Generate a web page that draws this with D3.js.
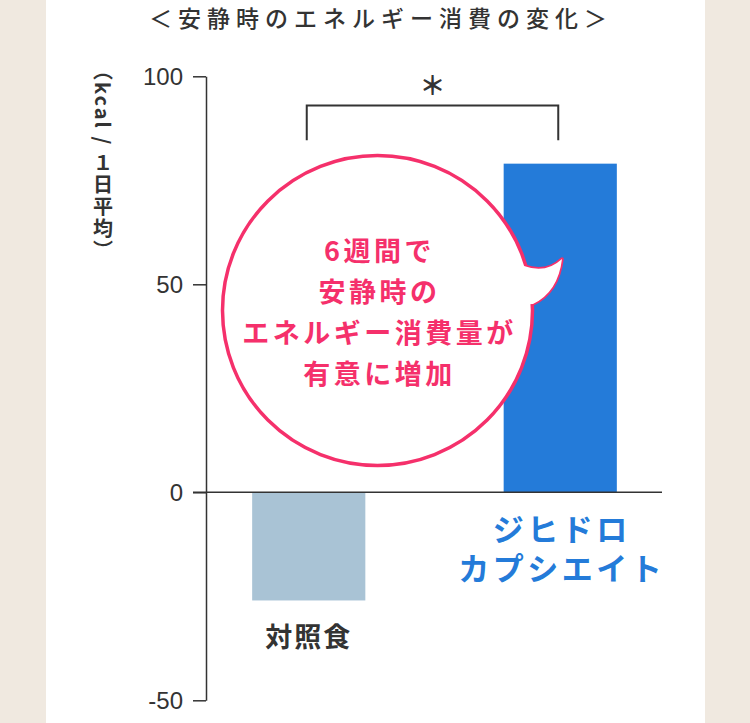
<!DOCTYPE html>
<html>
<head>
<meta charset="utf-8">
<script src="https://cdn.jsdelivr.net/npm/d3@7"></script>
<style>
  html, body { margin: 0; padding: 0; background: #f0e9e0; }
  svg { display: block; }
</style>
</head>
<body>
<div id="chart"></div>
<script>
// Data
const categories = ["対照食", "ジヒドロカプシエイト"];
const values = [-26, 79];
const categoryLines = [["対照食"], ["ジヒドロ", "カプシエイト"]];
const yTicks = [100, 50, 0, -50];
const yLabel = "（kcal / １日平均）";
const title = "＜安静時のエネルギー消費の変化＞";
const bubbleLines = ["6週間で", "安静時の", "エネルギー消費量が", "有意に増加"];
const significance = "＊";

// Size
const width = 750,
      height = 723;

const jp = "'Noto Sans CJK JP', 'Noto Sans', sans-serif",
      num = "'Liberation Sans', Arial, sans-serif";

const barColors = ["#a9c3d5", "#247bd9"],
      labelColors = ["#333333", "#247bd9"],
      pink = "#f5306b",
      ink = "#333333";

const svg = d3.select("#chart").append("svg")
    .attr("width", width)
    .attr("height", height);

// White panel
svg.append("rect")
    .attr("x", 46)
    .attr("y", 0)
    .attr("width", 659)
    .attr("height", height)
    .attr("fill", "#ffffff");

// Scales
const x = d3.scaleBand()
    .domain(categories)
    .range([183, 686])
    .paddingInner(0.55)
    .paddingOuter(0.275);

const y = d3.scaleLinear()
    .domain([-50, 100])
    .range([700.3, 76.3]);

// Title
svg.append("text")
    .attr("x", 378)
    .attr("y", 27)
    .attr("text-anchor", "middle")
    .attr("dx", 3)
    .style("font-family", jp)
    .style("font-size", "23px")
    .style("font-weight", 500)
    .style("letter-spacing", "6px")
    .attr("fill", ink)
    .text(title);

// Y axis label (vertical)
svg.append("text")
    .attr("x", 103)
    .attr("y", 60)
    .style("writing-mode", "vertical-rl")
    .style("font-family", jp)
    .style("font-size", "20px")
    .style("font-weight", 700)
    .style("letter-spacing", "2px")
    .attr("fill", ink)
    .text(yLabel);

// Bars
svg.append("g").attr("class", "bars")
  .selectAll("rect")
    .data(categories)
  .enter().append("rect")
    .attr("x", d => x(d))
    .attr("width", x.bandwidth())
    .attr("y", (d, i) => y(Math.max(0, values[i])))
    .attr("height", (d, i) => Math.abs(y(values[i]) - y(0)))
    .attr("fill", (d, i) => barColors[i]);

// Axis
const yAxis = d3.axisLeft(y)
    .tickValues(yTicks)
    .tickSize(13)
    .tickSizeOuter(0)
    .tickPadding(10)
    .tickFormat(d => String(d));

const gAxis = svg.append("g")
    .attr("transform", "translate(206,0)")
    .call(yAxis);

gAxis.select(".domain")
    .attr("stroke", ink)
    .attr("stroke-width", 1.5);
gAxis.selectAll(".tick line")
    .attr("stroke", ink)
    .attr("stroke-width", 1.5);
gAxis.selectAll(".tick text")
    .attr("fill", ink)
    .style("font-family", num)
    .style("font-size", "24px")
    .attr("dy", "0.36em");

// Zero line
svg.append("line")
    .attr("x1", 193)
    .attr("x2", 662)
    .attr("y1", y(0))
    .attr("y2", y(0))
    .attr("stroke", ink)
    .attr("stroke-width", 1.5);

// Category labels (one text per category, lines as tspans)
svg.append("g").attr("class", "labels")
  .selectAll("text")
    .data(categories)
  .enter().append("text")
    .attr("y", (d, i) => i === 0 ? 647 : 541)
    .attr("text-anchor", "middle")
    .style("font-family", jp)
    .style("font-size", (d, i) => i === 0 ? "27px" : "31px")
    .style("font-weight", 700)
    .style("letter-spacing", (d, i) => i === 0 ? "2px" : "3.5px")
    .attr("fill", (d, i) => labelColors[i])
    .each(function(d, i) {
      const cx = x(d) + x.bandwidth() / 2 + (i === 0 ? 0 : 1.5);
      d3.select(this).selectAll("tspan")
          .data(categoryLines[i])
        .enter().append("tspan")
          .attr("x", cx)
          .attr("dy", (t, j) => j === 0 ? 0 : 39)
          .text(t => t);
    });

// Significance bracket
const bx0 = x(categories[0]) + x.bandwidth() / 2 - 2,
      bx1 = x(categories[1]) + x.bandwidth() / 2 - 2;
svg.append("path")
    .attr("d", "M" + bx0 + "," + y(84.6) + "V" + y(93) + "H" + bx1 + "V" + y(84.6))
    .attr("fill", "none")
    .attr("stroke", ink)
    .attr("stroke-width", 2);

svg.append("text")
    .attr("x", (bx0 + bx1) / 2)
    .attr("y", 95)
    .attr("text-anchor", "middle")
    .style("font-family", jp)
    .style("font-size", "26px")
    .style("font-weight", 700)
    .attr("fill", ink)
    .text(significance);

// Speech bubble
const bubble = svg.append("g").attr("class", "bubble");
const cx = 377.5, cy = 310.5, r = 155;
const tail = "M524,266 Q546,274 562,259 Q558,292 533,304";

bubble.append("path")
    .attr("d", tail + " L" + cx + "," + cy + "Z")
    .attr("fill", "#fff")
    .attr("stroke", pink)
    .attr("stroke-width", 3.5)
    .attr("stroke-linejoin", "round");

bubble.append("circle")
    .attr("cx", cx)
    .attr("cy", cy)
    .attr("r", r)
    .attr("fill", "#fff")
    .attr("stroke", pink)
    .attr("stroke-width", 3.5);

bubble.append("path")
    .attr("d", tail + " L" + cx + "," + cy + "Z")
    .attr("fill", "#fff")
    .attr("stroke", "none");

bubble.selectAll("text")
    .data(bubbleLines)
  .enter().append("text")
    .attr("x", cx)
    .attr("dx", 2)
    .attr("y", (d, i) => 261 + i * 41)
    .attr("text-anchor", "middle")
    .style("font-family", jp)
    .style("font-size", "27px")
    .style("font-weight", 700)
    .style("letter-spacing", "3.5px")
    .attr("fill", pink)
    .text(d => d);
</script>
</body>
</html>
